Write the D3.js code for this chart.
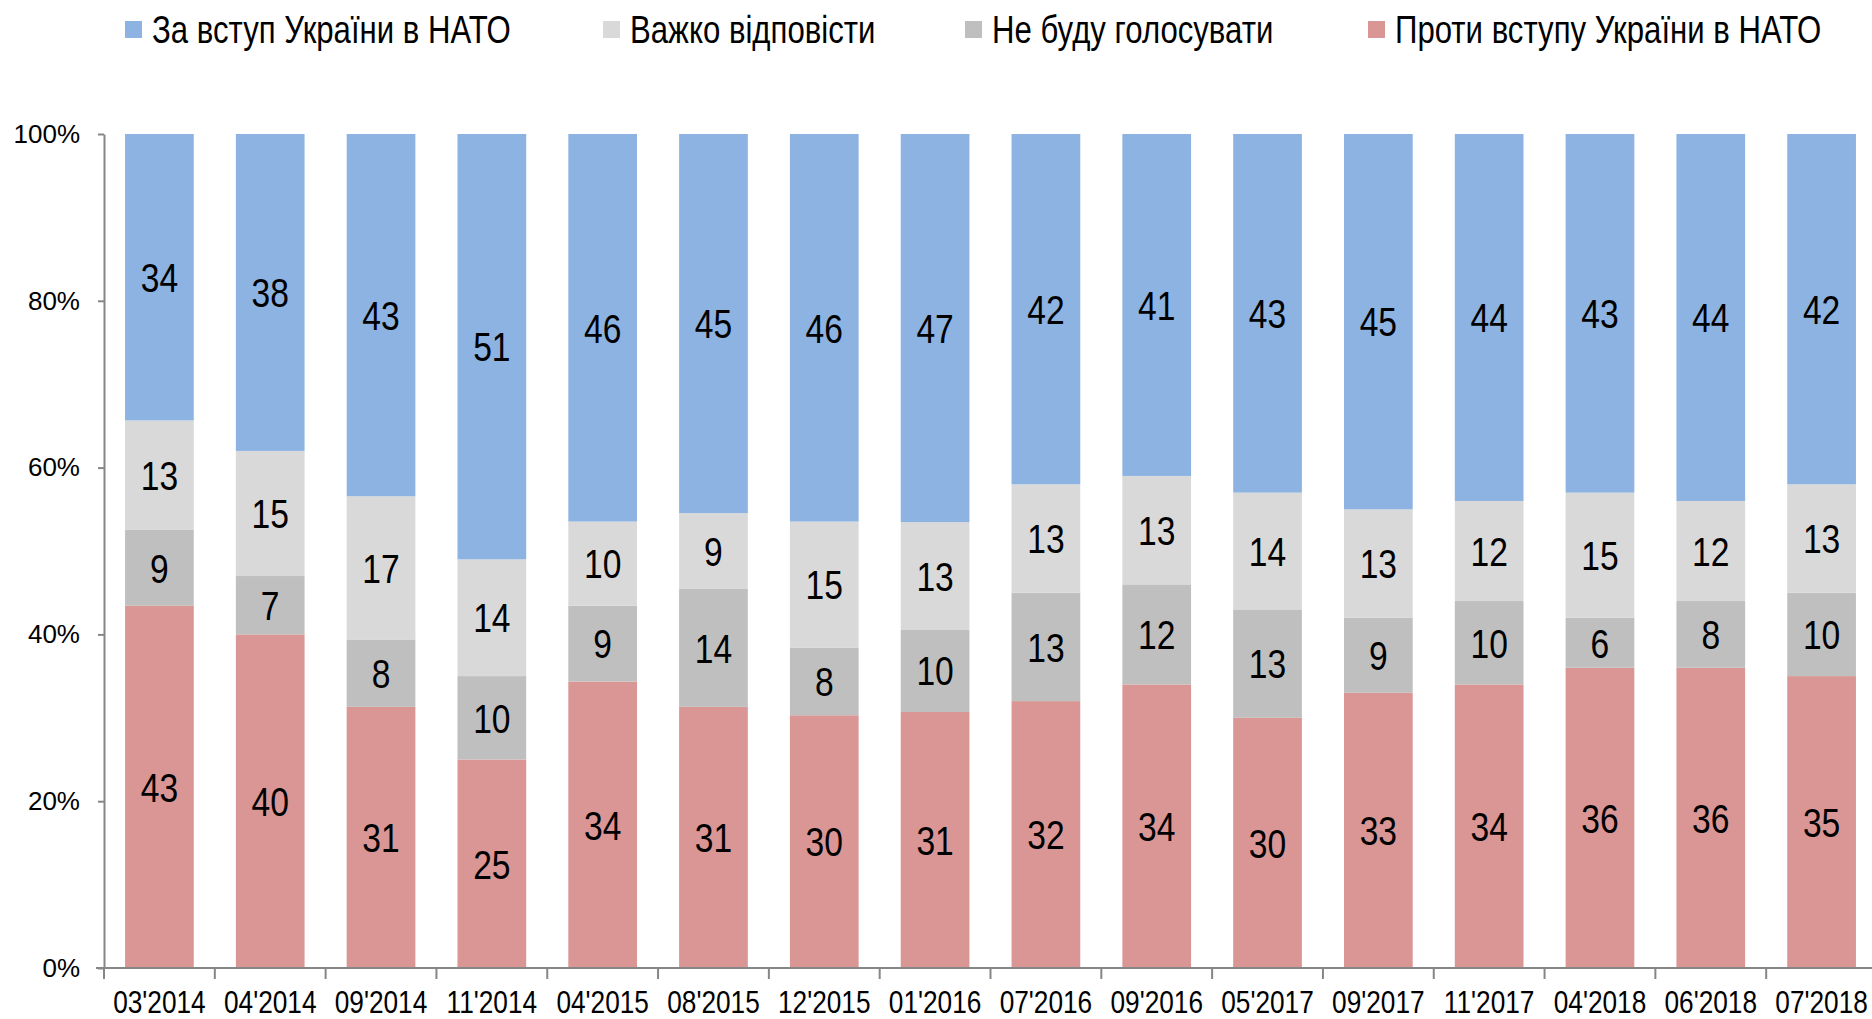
<!DOCTYPE html>
<html><head><meta charset="utf-8">
<script src="https://cdn.jsdelivr.net/npm/d3@7"></script>
<style>body{margin:0;background:#fff}svg{display:block}</style>
</head><body>
<svg id="c" width="1872" height="1019"></svg>
<script>
const categories = ["03'2014","04'2014","09'2014","11'2014","04'2015","08'2015","12'2015","01'2016","07'2016","09'2016","05'2017","09'2017","11'2017","04'2018","06'2018","07'2018"];
const against   = [43,40,31,25,34,31,30,31,32,34,30,33,34,36,36,35];
const noVote    = [9,7,8,10,9,14,8,10,13,12,13,9,10,6,8,10];
const hardToSay = [13,15,17,14,10,9,15,13,13,13,14,13,12,15,12,13];
const forNato   = [34,38,43,51,46,45,46,47,42,41,43,45,44,43,44,42];
const seriesNames = ["Проти вступу України в НАТО","Не буду голосувати","Важко відповісти","За вступ України в НАТО"];
const seriesColors = ["#D99694","#BFBFBF","#D9D9D9","#8DB3E2"];
const legendOrder = [3,2,1,0];
const yTicks = [0,0.2,0.4,0.6,0.8,1];

const svg = d3.select("#c");
const sans = "'Liberation Sans',Arial,Helvetica,sans-serif";
const squeeze = 0.82;
const plotLeft = 104, plotRight = 1877, plotTop = 134, plotBottom = 968;

const rows = categories.map((c,i)=>({cat:c, s0:against[i], s1:noVote[i], s2:hardToSay[i], s3:forNato[i]}));
const keys = ["s0","s1","s2","s3"];
const stack = d3.stack().keys(keys).offset(d3.stackOffsetExpand)(rows);

const x = d3.scaleBand().domain(categories).range([plotLeft,plotRight]).paddingInner(0.38).paddingOuter(0.19);
const y = d3.scaleLinear().domain([0,1]).range([plotBottom,plotTop]);

function narrowText(sel, size){
  return sel.style("font-family",sans).style("font-size",size+"px").attr("fill","#000");
}

// bars
stack.forEach((layer,k)=>{
  const g = svg.append("g");
  g.selectAll("rect").data(layer).join("rect")
    .attr("x", d=>x(d.data.cat)).attr("width", x.bandwidth())
    .attr("y", d=>y(d[1])).attr("height", d=>y(d[0])-y(d[1]))
    .attr("fill", seriesColors[k]);
  narrowText(g.selectAll("text").data(layer).join("text"), 41)
    .attr("transform", d=>`translate(${x(d.data.cat)+x.bandwidth()/2},${(y(d[0])+y(d[1]))/2}) scale(${squeeze},1)`)
    .attr("dy","0.36em").attr("text-anchor","middle")
    .text(d=>d.data[keys[k]]);
});

// y axis
const yAxis = d3.axisLeft(y).tickValues(yTicks).tickFormat(d3.format(".0%")).tickSize(6).tickSizeOuter(0).tickPadding(18);
const ya = svg.append("g").attr("transform",`translate(${plotLeft},0)`).call(yAxis);
ya.select(".domain").attr("stroke","#868686").attr("stroke-width",2);
ya.selectAll(".tick line").attr("stroke","#868686").attr("stroke-width",2);
ya.selectAll(".tick text").style("font-family",sans).style("font-size","26px").attr("fill","#000");

// x axis
const xa = svg.append("g").attr("transform",`translate(0,${plotBottom})`);
xa.append("line").attr("x1",plotLeft-8).attr("x2",1872).attr("stroke","#868686").attr("stroke-width",2);
const boundaries = categories.map((c,i)=>i===0?plotLeft:x(c)-x.step()*x.paddingInner()/2);
xa.selectAll("line.t").data(boundaries).join("line").attr("class","t")
  .attr("x1",d=>d).attr("x2",d=>d).attr("y1",0).attr("y2",11).attr("stroke","#868686").attr("stroke-width",2);
narrowText(xa.selectAll("text").data(categories).join("text"), 32)
  .attr("transform",d=>`translate(${x(d)+x.bandwidth()/2},45) scale(${squeeze},1)`)
  .attr("text-anchor","middle").text(d=>d);

// legend
const legendX = [125,603,965,1368];
const lg = svg.append("g");
legendOrder.forEach((k,i)=>{
  lg.append("rect").attr("x",legendX[i]).attr("y",21).attr("width",17).attr("height",17).attr("fill",seriesColors[k]);
  narrowText(lg.append("text"), 38)
    .attr("transform",`translate(${legendX[i]+27},29) scale(${squeeze},1)`)
    .attr("dy","0.36em").text(seriesNames[k]);
});
</script>
</body></html>
